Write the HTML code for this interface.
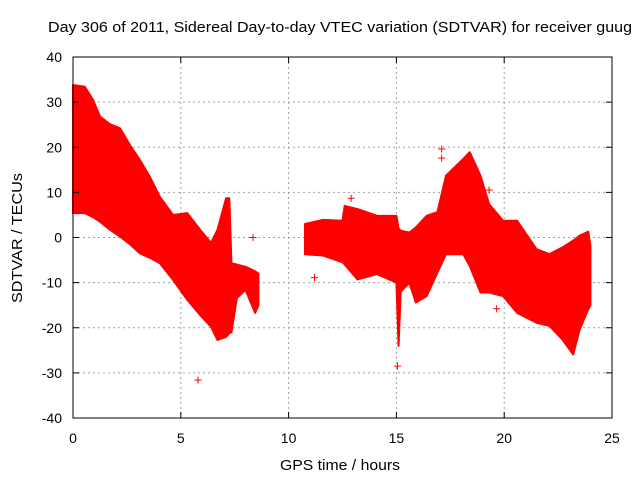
<!DOCTYPE html>
<html><head><meta charset="utf-8"><style>
body{margin:0;background:#fff}
svg{display:block;font-family:"Liberation Sans",sans-serif;font-size:14px}
</style></head><body>
<svg id="chart" width="640" height="480">
<text x="340" y="32" text-anchor="middle" textLength="584" lengthAdjust="spacingAndGlyphs" style="font-size:15px">Day 306 of 2011, Sidereal Day-to-day VTEC variation (SDTVAR) for receiver guug</text>
<text x="340" y="470" text-anchor="middle" textLength="120" lengthAdjust="spacingAndGlyphs" style="font-size:15px">GPS time / hours</text>
<text transform="translate(22,238) rotate(-90)" text-anchor="middle" textLength="130" lengthAdjust="spacingAndGlyphs" style="font-size:15px">SDTVAR / TECUs</text>
<g id="grid"></g><g id="marks"></g>
<rect x="73" y="57" width="539" height="361" fill="none" stroke="#000"/>
<g id="ticks"></g>
</svg>
<script>
const xTicks=[0,5,10,15,20,25];
const yTicks=[-40,-30,-20,-10,0,10,20,30,40];
const seg1Hours=[0,0.55,0.93,1.25,1.72,2.18,2.64,3.1,3.57,4.03,4.64,5.3,5.9,6.4,6.7,7.1,7.25,7.35,7.6,8.0,8.45,8.6];
const seg1Upper=[33.8,33.4,30.5,26.8,25.1,24.2,20.5,17.2,13.4,9,5,5.4,1.7,-1.2,1.7,8.7,8.7,-5.7,-6,-6.5,-7.5,-8];
const seg1Lower=[5.4,5.4,4.5,3.5,1.7,0.2,-1.5,-3.5,-4.5,-5.7,-9.4,-13.8,-17.2,-19.8,-22.7,-22,-21.2,-21,-13.4,-11.6,-16.7,-15];
const seg2Hours=[10.76,11.6,12.5,12.6,13.2,14.1,15.0,15.1,15.2,15.6,15.9,16.4,16.9,17.3,18.1,18.4,18.9,19.3,19.95,20.6,21.5,22.1,22.7,23.2,23.5,23.9,24.0];
const seg2Upper=[3.0,3.9,3.7,7,6.3,4.8,4.8,2,1.5,1.1,2.2,4.8,5.6,13.7,17.4,18.9,13.7,7.4,3.7,3.7,-2.6,-3.7,-2.2,-0.7,0.4,1.3,-1.9];
const seg2Lower=[-3.7,-4,-5.5,-6,-9.3,-8.1,-10,-24,-12,-10,-14.4,-13,-7.8,-3.7,-3.7,-6.3,-12.2,-12.2,-13,-16.7,-18.9,-19.6,-22.6,-25.9,-20.4,-15.9,-15];
const outlierHours=[5.8,8.35,12.9,17.1,17.1,15.05,19.65,19.3,11.2,20.8];
const outlierValues=[-31.6,0,8.7,19.6,17.6,-28.5,-15.8,10.5,-8.9,-1];
const X=h=>73+h*(539/25), Y=v=>237.5-v*(361/80);
const ns="http://www.w3.org/2000/svg";
const grid=document.getElementById('grid'),ticks=document.getElementById('ticks'),marks=document.getElementById('marks');
function mk(tag,attrs,parent){const e=document.createElementNS(ns,tag);for(const k in attrs)e.setAttribute(k,attrs[k]);parent.appendChild(e);return e;}
xTicks.forEach(t=>{
  if(t>0&&t<25){const g=mk('line',{x1:X(t),x2:X(t),y1:57,y2:418,stroke:'#a0a0a0','stroke-dasharray':'2,3'},grid);
  
  }
  const tk=mk('path',{d:`M${X(t)},418v-6M${X(t)},57v6`,stroke:'#000'},ticks);
  
  
  const l=mk('text',{x:X(t),y:443,'text-anchor':'middle'},ticks);l.textContent=t;
  
  
});
yTicks.forEach(t=>{
  if(t>-40&&t<40){const g=mk('line',{x1:73,x2:612,y1:Y(t),y2:Y(t),stroke:'#a0a0a0','stroke-dasharray':'2,3'},grid);
  
  }
  const tk=mk('path',{d:`M73,${Y(t)}h6M612,${Y(t)}h-6`,stroke:'#000'},ticks);
  
  
  const l=mk('text',{x:62,y:Y(t)+5,'text-anchor':'end'},ticks);l.textContent=t;
  
  
});
function band(h,u,lo,name){
  const pts=h.map((x,i)=>X(x)+','+Y(u[i])).concat(h.map((x,i)=>X(x)+','+Y(lo[i])).reverse());
  const p=mk('polygon',{points:pts.join(' '),fill:'#ff0000',stroke:'#ff0000','stroke-width':2,'stroke-linejoin':'round'},marks);
  
  
}
band(seg1Hours,seg1Upper,seg1Lower,'sdtvar-band-morning');
band(seg2Hours,seg2Upper,seg2Lower,'sdtvar-band-afternoon');
outlierHours.forEach((h,i)=>{
  const x=X(h),y=Y(outlierValues[i]);
  const p=mk('path',{d:`M${x-3.5},${y}H${x+3.5}M${x},${y-3.5}V${y+3.5}`,stroke:'#ff0000','stroke-width':1},marks);
  
  
});
</script>
</body></html>
